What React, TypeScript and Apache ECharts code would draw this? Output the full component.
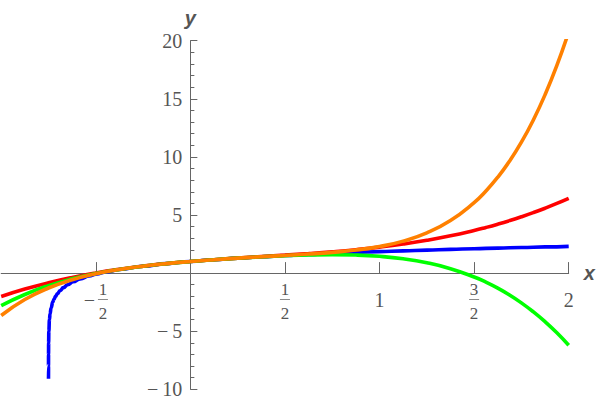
import React, { useEffect, useRef } from "react";
import * as echarts from "echarts";

// Shared x grid for the polynomial curves
const xGrid = [
  -1, -0.875, -0.75, -0.625, -0.5, -0.375, -0.25, -0.125, 0, 0.125, 0.25, 0.375,
  0.5, 0.625, 0.75, 0.875, 1, 1.125, 1.25, 1.375, 1.5, 1.5625, 1.625, 1.6875,
  1.75, 1.8125, 1.875, 1.9375, 2,
];

// Red curve
const redValues = [
  -2.0123, -1.3765, -0.8333, -0.3735, 0.0123, 0.3333, 0.5988, 0.8179, 1, 1.1543,
  1.2901, 1.4167, 1.5432, 1.679, 1.8333, 2.0154, 2.2346, 2.5, 2.821, 3.2068,
  3.6667, 3.9273, 4.2099, 4.5156, 4.8457, 5.2012, 5.5833, 5.9932, 6.4321,
];

// Green curve
const greenValues = [
  -2.8025, -1.8397, -1.0833, -0.494, -0.037, 0.3177, 0.5957, 0.8177, 1, 1.1541,
  1.287, 1.401, 1.4938, 1.5584, 1.5833, 1.5523, 1.4444, 1.2344, 0.892, 0.3825,
  -0.3333, -0.7822, -1.2996, -1.8916, -2.5648, -3.326, -4.1823, -5.141, -6.2099,
];

// Orange curve
const orangeValues = [
  -3.6453, -2.272, -1.2833, -0.5744, -0.0634, 0.3115, 0.5949, 0.8177, 1, 1.1542,
  1.2879, 1.4073, 1.5202, 1.6388, 1.7833, 1.9846, 2.2872, 2.7531, 3.464, 4.5248,
  6.0667, 7.0669, 8.2501, 9.6414, 11.2681, 13.1599, 15.349, 17.8698, 20.7597,
];

// Blue curve (own x samples, dense near its vertical asymptote)
const blueX = [
  -0.74997, -0.74991, -0.74975, -0.74932, -0.74814, -0.74495, -0.74167, -0.73626,
  -0.72735, -0.72092, -0.71266, -0.70205, -0.68844, -0.67095, -0.6485, -0.61967,
  -0.58265, -0.53512, -0.5, -0.4375, -0.375, -0.25, -0.125, 0, 0.125, 0.25, 0.375,
  0.5, 0.625, 0.75, 0.875, 1, 1.125, 1.25, 1.375, 1.5, 1.625, 1.75, 1.875, 2,
];
const blueY = [
  -9.1, -8, -7, -6, -5, -4, -3.5, -3, -2.5, -2.25, -2, -1.75, -1.5, -1.25, -1,
  -0.75, -0.5, -0.25, -0.0986, 0.1245, 0.3069, 0.5945, 0.8177, 1, 1.1542, 1.2877,
  1.4055, 1.5108, 1.6061, 1.6931, 1.7732, 1.8473, 1.9163, 1.9808, 2.0415, 2.0986,
  2.1527, 2.204, 2.2528, 2.2993,
];

// Axis ranges, tick positions and labels
const xMin = -1;
const xMax = 2;
const xStep = 0.5;
const yMin = -10;
const yMax = 20;
const yStep = 5;
const xTickValues = [-0.5, 0.5, 1, 1.5, 2];
const xTickLabels = [
  "{s| }{n|1}\n{m|−}{b| }\n{s| }{d|2}",
  "{n|1}\n{b| }\n{d|2}",
  "{i|1}",
  "{n|3}\n{b| }\n{d|2}",
  "{i|2}",
];

const AXIS = "#666666";
const TEXT = "#555555";
const SERIF = "'Liberation Serif', 'Times New Roman', serif";
const SANS = "'Liberation Sans', Arial, sans-serif";

const W = 600;
const H = 404;
const GRID = { left: 1.2, right: 31.3, top: 40.7, bottom: 14.7 };

function pairs(xs: number[], ys: number[]) {
  return xs.map((x, i) => [x, ys[i]]);
}

export default function App() {
  const ref = useRef<HTMLDivElement>(null);

  useEffect(() => {
    if (!ref.current) return;
    const chart = echarts.init(ref.current, null, { renderer: "svg" });
    const gridW = W - GRID.left - GRID.right;
    const gridH = H - GRID.top - GRID.bottom;
    // shift the axes so that they cross at the origin
    const yAxisOffset = -((0 - xMin) / (xMax - xMin)) * gridW;
    const xAxisOffset = -((0 - yMin) / (yMax - yMin)) * gridH;
    const lineBase = {
      type: "line",
      showSymbol: false,
      symbol: "none",
      smooth: 0.5,
      clip: true,
      z: 3,
    };
    chart.setOption({
      animation: false,
      backgroundColor: "#ffffff",
      grid: { ...GRID, containLabel: false, outerBoundsMode: "none" },
      xAxis: {
        type: "value",
        position: "bottom",
        offset: xAxisOffset,
        min: xMin,
        max: xMax,
        interval: xStep,
        name: "x",
        nameLocation: "end",
        nameGap: 15,
        nameTextStyle: {
          fontSize: 20,
          fontWeight: "bold",
          fontStyle: "italic",
          fontFamily: SANS,
          color: TEXT,
        },
        axisLine: { show: true, onZero: false, lineStyle: { color: AXIS, width: 1 } },
        axisTick: {
          show: true,
          inside: true,
          length: 11,
          customValues: xTickValues,
          lineStyle: { color: AXIS, width: 1 },
        },
        splitLine: { show: false },
        axisLabel: {
          customValues: xTickValues,
          margin: 29.4,
          verticalAlign: "middle",
          color: TEXT,
          fontFamily: SERIF,
          fontSize: 20,
          formatter: (v: number) => {
            const i = xTickValues.findIndex((t) => Math.abs(t - v) < 1e-9);
            return i >= 0 ? xTickLabels[i] : "";
          },
          rich: {
            n: { fontSize: 17, lineHeight: 16, fontFamily: SERIF, color: TEXT, width: 10, align: "center" },
            d: { fontSize: 17, lineHeight: 22, fontFamily: SERIF, color: TEXT, width: 10, align: "center" },
            b: { width: 10, height: 1, lineHeight: 5, backgroundColor: "#8a8a8a" },
            m: { fontSize: 20, lineHeight: 5, fontFamily: SERIF, color: TEXT, width: 11.3, padding: [0, 3, 0, 0] },
            s: { fontSize: 20, lineHeight: 5, fontFamily: SERIF, color: TEXT, width: 11.3, padding: [0, 3, 0, 0] },
            i: { fontSize: 20, fontFamily: SERIF, color: TEXT, padding: [0, 0, 6, 0] },
          },
        },
      },
      yAxis: {
        type: "value",
        position: "left",
        offset: yAxisOffset,
        min: yMin,
        max: yMax,
        interval: yStep,
        name: "y",
        nameLocation: "end",
        nameGap: 13,
        nameTextStyle: {
          fontSize: 20,
          fontWeight: "bold",
          fontStyle: "italic",
          fontFamily: SANS,
          color: TEXT,
        },
        axisLine: { show: true, onZero: false, lineStyle: { color: AXIS, width: 1 } },
        axisTick: { show: true, inside: true, length: 7, lineStyle: { color: AXIS, width: 1 } },
        minorTick: { show: true, splitNumber: 5, length: 4, lineStyle: { color: AXIS, width: 1 } },
        splitLine: { show: false },
        minorSplitLine: { show: false },
        axisLabel: {
          margin: 8,
          color: TEXT,
          fontFamily: SERIF,
          fontSize: 20,
          formatter: (v: number) => {
            if (v === 0) return "";
            return v < 0 ? "−\u2009" + Math.abs(v) : String(v);
          },
        },
      },
      series: [
        { ...lineBase, name: "blue", data: pairs(blueX, blueY), smoothMonotone: "x", lineStyle: { color: "#0000ff", width: 3.6 }, itemStyle: { color: "#0000ff" } },
        { ...lineBase, name: "red", data: pairs(xGrid, redValues), lineStyle: { color: "#ff0000", width: 3.6 }, itemStyle: { color: "#ff0000" } },
        { ...lineBase, name: "green", data: pairs(xGrid, greenValues), lineStyle: { color: "#00ff00", width: 3.6 }, itemStyle: { color: "#00ff00" } },
        { ...lineBase, name: "orange", data: pairs(xGrid, orangeValues), lineStyle: { color: "#ff8000", width: 3.6 }, itemStyle: { color: "#ff8000" } },
      ],
    });
    return () => chart.dispose();
  }, []);

  return (
    <div
      ref={ref}
      style={{ position: "absolute", left: 0, top: 0, width: W, height: H, background: "#ffffff" }}
    />
  );
}
